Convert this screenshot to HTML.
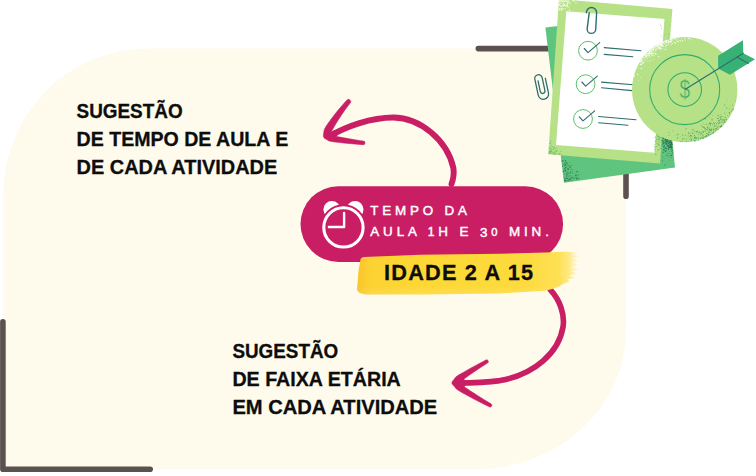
<!DOCTYPE html>
<html lang="pt-BR"><head><meta charset="utf-8"><title>Sugestão de tempo de aula</title>
<style>
html,body{margin:0;padding:0;background:#fff;}
body{width:756px;height:476px;overflow:hidden;position:relative;font-family:"Liberation Sans",sans-serif;}
svg{position:absolute;left:0;top:0;display:block}
text{font-family:"Liberation Sans",sans-serif;}
.h{font-weight:700;font-size:20px;fill:#0d0d0d;stroke:#0d0d0d;stroke-width:0.3px;}
.p{font-weight:400;font-size:13.4px;fill:#fff;stroke:#fff;stroke-width:0.45px;}
.i{font-weight:700;font-size:21.7px;fill:#0d0d0d;stroke:#0d0d0d;stroke-width:0.3px;}
</style></head><body>
<svg width="756" height="476" viewBox="0 0 756 476">

<path fill="#FEFBEC" d="M3.2,195.2 A144.2,146.6 0 0 1 147.39999999999998,48.6 L626,48.6 L626,330.3 A150,139 0 0 1 476,469.3 L3.2,469.3 Z"/>
<g fill="none" stroke="#5B5250" stroke-width="5.6" stroke-linecap="round" stroke-linejoin="round">
<path d="M2.9,321.7 L2.9,469.2 L150.2,469.2"/>
<path d="M478.3,48.6 L626,48.6 L626,196.3"/>
</g>
<polygon fill="#5FC47E" points="545.4,27.5 660,14 675,167.4 564,182.8"/>
<g fill="#26704F" opacity="0.9"><circle cx="563.7" cy="172.3" r="0.27"/><circle cx="570.6" cy="172.6" r="0.27"/><circle cx="566.7" cy="175.6" r="0.36"/><circle cx="565.5" cy="171.2" r="0.48"/><circle cx="570.9" cy="175.4" r="0.41"/><circle cx="565.9" cy="162.7" r="0.52"/><circle cx="565.5" cy="164.1" r="0.33"/><circle cx="573.2" cy="173.5" r="0.25"/><circle cx="576.2" cy="175.6" r="0.56"/><circle cx="571.0" cy="169.2" r="0.47"/><circle cx="563.4" cy="161.5" r="0.31"/><circle cx="568.1" cy="179.1" r="0.26"/><circle cx="568.0" cy="168.4" r="0.52"/><circle cx="574.2" cy="177.9" r="0.33"/><circle cx="567.2" cy="171.9" r="0.26"/><circle cx="562.6" cy="166.4" r="0.49"/><circle cx="567.1" cy="165.2" r="0.32"/><circle cx="566.1" cy="178.2" r="0.53"/><circle cx="568.0" cy="169.6" r="0.57"/><circle cx="564.8" cy="170.2" r="0.33"/><circle cx="569.3" cy="176.6" r="0.44"/><circle cx="576.4" cy="171.8" r="0.59"/><circle cx="565.4" cy="181.1" r="0.50"/><circle cx="576.6" cy="178.4" r="0.55"/><circle cx="563.2" cy="164.6" r="0.36"/><circle cx="566.1" cy="168.0" r="0.34"/><circle cx="564.4" cy="178.8" r="0.42"/><circle cx="571.3" cy="168.0" r="0.30"/><circle cx="565.6" cy="170.3" r="0.59"/><circle cx="578.7" cy="174.8" r="0.54"/><circle cx="577.7" cy="175.9" r="0.26"/><circle cx="565.1" cy="168.3" r="0.54"/><circle cx="577.7" cy="171.3" r="0.53"/><circle cx="576.2" cy="174.8" r="0.30"/><circle cx="567.8" cy="177.1" r="0.45"/><circle cx="562.3" cy="161.4" r="0.49"/><circle cx="564.7" cy="180.6" r="0.59"/><circle cx="566.8" cy="173.4" r="0.43"/><circle cx="567.3" cy="180.6" r="0.26"/><circle cx="569.3" cy="179.3" r="0.51"/><circle cx="564.9" cy="170.9" r="0.35"/><circle cx="566.8" cy="180.8" r="0.33"/><circle cx="565.2" cy="164.4" r="0.37"/><circle cx="564.1" cy="165.5" r="0.45"/><circle cx="567.1" cy="173.8" r="0.36"/><circle cx="565.3" cy="161.2" r="0.39"/><circle cx="570.6" cy="167.6" r="0.25"/><circle cx="562.9" cy="160.8" r="0.57"/><circle cx="569.3" cy="166.3" r="0.51"/><circle cx="570.3" cy="178.0" r="0.32"/><circle cx="568.8" cy="173.0" r="0.51"/><circle cx="566.6" cy="165.7" r="0.30"/><circle cx="567.3" cy="178.6" r="0.60"/><circle cx="570.6" cy="179.9" r="0.34"/><circle cx="575.7" cy="174.3" r="0.38"/><circle cx="565.3" cy="164.7" r="0.46"/><circle cx="569.5" cy="175.6" r="0.36"/><circle cx="566.7" cy="178.3" r="0.27"/><circle cx="566.5" cy="176.7" r="0.25"/><circle cx="571.3" cy="180.3" r="0.31"/><circle cx="570.5" cy="171.6" r="0.35"/><circle cx="576.3" cy="179.0" r="0.53"/><circle cx="564.7" cy="173.8" r="0.47"/><circle cx="563.9" cy="176.9" r="0.43"/><circle cx="563.2" cy="171.6" r="0.58"/><circle cx="578.8" cy="178.7" r="0.59"/><circle cx="565.7" cy="180.6" r="0.54"/><circle cx="570.3" cy="180.1" r="0.45"/><circle cx="570.3" cy="177.6" r="0.31"/><circle cx="562.0" cy="160.8" r="0.47"/><circle cx="564.4" cy="168.2" r="0.45"/><circle cx="567.6" cy="163.4" r="0.47"/><circle cx="567.7" cy="180.8" r="0.44"/><circle cx="571.3" cy="165.5" r="0.52"/><circle cx="566.0" cy="167.1" r="0.27"/><circle cx="572.7" cy="177.1" r="0.33"/><circle cx="564.4" cy="165.3" r="0.37"/><circle cx="572.0" cy="178.1" r="0.34"/><circle cx="566.9" cy="174.3" r="0.57"/><circle cx="565.3" cy="160.6" r="0.58"/><circle cx="569.9" cy="163.3" r="0.26"/><circle cx="566.7" cy="162.6" r="0.55"/><circle cx="564.3" cy="177.4" r="0.36"/><circle cx="568.5" cy="176.5" r="0.36"/><circle cx="572.0" cy="177.8" r="0.50"/><circle cx="573.3" cy="178.3" r="0.42"/><circle cx="570.0" cy="179.1" r="0.58"/><circle cx="570.0" cy="167.5" r="0.55"/><circle cx="577.2" cy="177.1" r="0.40"/><circle cx="565.7" cy="167.5" r="0.59"/><circle cx="566.5" cy="174.7" r="0.32"/><circle cx="563.3" cy="166.3" r="0.25"/><circle cx="567.0" cy="178.4" r="0.32"/><circle cx="564.9" cy="179.2" r="0.55"/><circle cx="568.2" cy="168.7" r="0.40"/><circle cx="581.1" cy="174.6" r="0.25"/><circle cx="564.3" cy="163.3" r="0.52"/><circle cx="566.5" cy="175.9" r="0.51"/><circle cx="572.1" cy="180.3" r="0.34"/><circle cx="563.3" cy="170.7" r="0.42"/><circle cx="563.7" cy="174.7" r="0.26"/><circle cx="574.1" cy="177.7" r="0.40"/><circle cx="568.7" cy="179.0" r="0.43"/><circle cx="577.1" cy="178.2" r="0.36"/><circle cx="575.7" cy="175.7" r="0.48"/><circle cx="572.5" cy="177.5" r="0.31"/><circle cx="568.9" cy="169.7" r="0.40"/><circle cx="572.9" cy="169.5" r="0.48"/><circle cx="566.9" cy="163.5" r="0.25"/><circle cx="565.3" cy="178.3" r="0.48"/><circle cx="573.0" cy="173.6" r="0.32"/><circle cx="566.2" cy="176.1" r="0.45"/><circle cx="571.3" cy="171.9" r="0.27"/><circle cx="576.6" cy="178.1" r="0.46"/><circle cx="569.9" cy="171.9" r="0.26"/><circle cx="562.9" cy="164.6" r="0.28"/><circle cx="575.6" cy="177.4" r="0.36"/><circle cx="565.9" cy="165.5" r="0.49"/><circle cx="565.2" cy="170.3" r="0.58"/><circle cx="569.8" cy="178.9" r="0.47"/><circle cx="565.3" cy="165.1" r="0.50"/><circle cx="568.1" cy="169.5" r="0.34"/><circle cx="568.7" cy="180.6" r="0.50"/><circle cx="567.0" cy="173.1" r="0.31"/><circle cx="570.5" cy="173.7" r="0.43"/><circle cx="572.3" cy="171.9" r="0.50"/><circle cx="567.1" cy="164.2" r="0.34"/><circle cx="564.8" cy="169.3" r="0.46"/><circle cx="570.4" cy="172.2" r="0.40"/><circle cx="568.1" cy="175.6" r="0.44"/><circle cx="568.6" cy="165.6" r="0.44"/><circle cx="567.1" cy="171.8" r="0.45"/><circle cx="567.5" cy="172.8" r="0.35"/><circle cx="572.1" cy="176.9" r="0.33"/><circle cx="566.2" cy="167.0" r="0.45"/><circle cx="571.5" cy="178.1" r="0.49"/><circle cx="575.5" cy="175.4" r="0.42"/><circle cx="576.1" cy="178.6" r="0.25"/><circle cx="573.1" cy="178.2" r="0.31"/><circle cx="568.7" cy="172.9" r="0.44"/></g>
<g fill="#1F5E49" opacity="0.9"><circle cx="666.2" cy="148.1" r="0.29"/><circle cx="663.9" cy="141.7" r="0.33"/><circle cx="663.6" cy="149.6" r="0.50"/><circle cx="669.1" cy="145.3" r="0.28"/><circle cx="670.6" cy="139.3" r="0.38"/><circle cx="668.0" cy="144.9" r="0.36"/><circle cx="662.1" cy="144.3" r="0.49"/><circle cx="670.6" cy="146.5" r="0.48"/><circle cx="671.4" cy="137.2" r="0.31"/><circle cx="671.5" cy="143.6" r="0.49"/><circle cx="660.8" cy="143.3" r="0.53"/><circle cx="668.7" cy="143.5" r="0.38"/><circle cx="666.6" cy="142.0" r="0.30"/><circle cx="664.6" cy="146.8" r="0.27"/><circle cx="667.2" cy="139.4" r="0.41"/><circle cx="665.8" cy="141.0" r="0.25"/><circle cx="669.0" cy="139.3" r="0.40"/><circle cx="663.0" cy="152.3" r="0.57"/><circle cx="670.4" cy="143.5" r="0.30"/><circle cx="668.0" cy="140.7" r="0.45"/><circle cx="668.2" cy="148.6" r="0.40"/><circle cx="669.0" cy="146.4" r="0.28"/><circle cx="670.4" cy="145.0" r="0.56"/><circle cx="670.9" cy="149.4" r="0.48"/><circle cx="668.2" cy="153.7" r="0.39"/><circle cx="663.8" cy="147.2" r="0.46"/><circle cx="661.8" cy="136.6" r="0.53"/><circle cx="671.0" cy="147.4" r="0.56"/><circle cx="665.5" cy="140.5" r="0.56"/><circle cx="666.3" cy="150.3" r="0.55"/><circle cx="665.3" cy="136.6" r="0.60"/><circle cx="668.8" cy="148.2" r="0.37"/><circle cx="665.9" cy="143.3" r="0.37"/><circle cx="664.8" cy="141.1" r="0.36"/><circle cx="664.4" cy="143.7" r="0.31"/><circle cx="660.9" cy="148.4" r="0.47"/><circle cx="664.1" cy="149.9" r="0.57"/><circle cx="661.5" cy="140.7" r="0.52"/><circle cx="671.9" cy="143.7" r="0.52"/><circle cx="670.0" cy="142.7" r="0.34"/><circle cx="666.9" cy="142.9" r="0.52"/><circle cx="671.8" cy="138.9" r="0.49"/><circle cx="671.0" cy="137.1" r="0.33"/><circle cx="666.9" cy="139.1" r="0.60"/><circle cx="667.8" cy="140.1" r="0.31"/><circle cx="671.0" cy="140.4" r="0.43"/><circle cx="671.7" cy="144.2" r="0.34"/><circle cx="671.5" cy="148.0" r="0.40"/><circle cx="666.2" cy="148.3" r="0.60"/><circle cx="669.8" cy="147.3" r="0.32"/><circle cx="671.1" cy="145.7" r="0.44"/><circle cx="665.0" cy="165.1" r="0.51"/><circle cx="671.4" cy="147.8" r="0.46"/><circle cx="670.8" cy="145.7" r="0.44"/><circle cx="662.0" cy="140.6" r="0.29"/><circle cx="667.2" cy="138.6" r="0.60"/><circle cx="670.9" cy="147.0" r="0.33"/><circle cx="669.1" cy="137.7" r="0.50"/><circle cx="664.4" cy="145.7" r="0.54"/><circle cx="669.9" cy="147.1" r="0.40"/><circle cx="669.0" cy="137.7" r="0.50"/><circle cx="665.3" cy="151.5" r="0.60"/><circle cx="664.4" cy="143.9" r="0.34"/><circle cx="668.2" cy="148.6" r="0.36"/><circle cx="664.1" cy="142.1" r="0.44"/><circle cx="666.9" cy="155.2" r="0.55"/><circle cx="670.8" cy="144.8" r="0.54"/><circle cx="671.0" cy="140.6" r="0.49"/><circle cx="670.9" cy="139.4" r="0.29"/><circle cx="668.7" cy="138.7" r="0.34"/><circle cx="667.4" cy="137.0" r="0.28"/><circle cx="670.3" cy="140.0" r="0.37"/><circle cx="664.2" cy="136.9" r="0.43"/><circle cx="669.3" cy="143.0" r="0.52"/><circle cx="671.4" cy="137.9" r="0.46"/><circle cx="666.5" cy="138.6" r="0.51"/><circle cx="670.9" cy="140.5" r="0.30"/><circle cx="670.2" cy="142.0" r="0.55"/><circle cx="671.5" cy="146.5" r="0.59"/><circle cx="667.8" cy="136.5" r="0.53"/><circle cx="665.4" cy="142.4" r="0.55"/><circle cx="669.9" cy="144.8" r="0.34"/><circle cx="670.9" cy="137.2" r="0.31"/><circle cx="668.4" cy="136.0" r="0.58"/><circle cx="670.7" cy="138.3" r="0.41"/><circle cx="669.4" cy="153.3" r="0.39"/><circle cx="672.2" cy="144.7" r="0.40"/><circle cx="671.1" cy="144.3" r="0.45"/><circle cx="665.0" cy="137.6" r="0.38"/><circle cx="672.0" cy="144.3" r="0.57"/><circle cx="665.4" cy="138.0" r="0.43"/><circle cx="663.4" cy="142.7" r="0.49"/><circle cx="662.2" cy="144.3" r="0.41"/><circle cx="667.6" cy="140.0" r="0.49"/><circle cx="671.3" cy="149.6" r="0.32"/><circle cx="666.4" cy="144.5" r="0.51"/><circle cx="668.3" cy="149.2" r="0.50"/><circle cx="671.6" cy="157.6" r="0.32"/><circle cx="667.3" cy="139.1" r="0.30"/><circle cx="663.3" cy="143.6" r="0.57"/><circle cx="669.4" cy="147.4" r="0.54"/><circle cx="672.6" cy="149.9" r="0.56"/><circle cx="668.5" cy="138.1" r="0.47"/><circle cx="670.2" cy="142.2" r="0.57"/><circle cx="664.7" cy="147.9" r="0.51"/><circle cx="668.7" cy="146.6" r="0.51"/><circle cx="671.5" cy="136.9" r="0.55"/><circle cx="671.3" cy="143.6" r="0.37"/><circle cx="665.2" cy="138.8" r="0.59"/><circle cx="672.7" cy="152.0" r="0.54"/><circle cx="661.0" cy="138.0" r="0.38"/><circle cx="664.4" cy="136.3" r="0.57"/><circle cx="670.6" cy="141.4" r="0.28"/><circle cx="671.6" cy="140.2" r="0.34"/><circle cx="665.9" cy="151.7" r="0.34"/><circle cx="663.4" cy="138.5" r="0.57"/><circle cx="667.2" cy="145.5" r="0.48"/><circle cx="667.7" cy="141.4" r="0.48"/><circle cx="668.2" cy="136.7" r="0.51"/><circle cx="668.6" cy="143.0" r="0.46"/><circle cx="670.4" cy="140.4" r="0.58"/><circle cx="661.3" cy="142.5" r="0.40"/><circle cx="662.6" cy="160.8" r="0.46"/><circle cx="671.4" cy="140.1" r="0.29"/><circle cx="670.8" cy="138.2" r="0.47"/><circle cx="663.6" cy="142.4" r="0.26"/><circle cx="667.0" cy="141.3" r="0.26"/><circle cx="670.8" cy="140.8" r="0.59"/><circle cx="671.6" cy="144.2" r="0.25"/><circle cx="662.8" cy="156.9" r="0.33"/><circle cx="664.1" cy="137.6" r="0.31"/><circle cx="669.4" cy="141.7" r="0.53"/><circle cx="671.6" cy="136.9" r="0.33"/><circle cx="669.7" cy="138.7" r="0.43"/><circle cx="667.4" cy="141.9" r="0.43"/><circle cx="672.3" cy="147.2" r="0.57"/><circle cx="667.0" cy="138.6" r="0.28"/><circle cx="661.7" cy="138.1" r="0.44"/><circle cx="665.4" cy="139.7" r="0.59"/><circle cx="671.7" cy="139.9" r="0.59"/><circle cx="665.6" cy="147.3" r="0.33"/><circle cx="670.8" cy="155.6" r="0.55"/><circle cx="661.6" cy="145.8" r="0.53"/><circle cx="663.6" cy="138.1" r="0.51"/><circle cx="666.9" cy="138.8" r="0.54"/><circle cx="667.5" cy="138.8" r="0.37"/><circle cx="670.8" cy="140.3" r="0.47"/><circle cx="669.9" cy="145.1" r="0.33"/><circle cx="668.1" cy="141.5" r="0.40"/><circle cx="671.1" cy="147.8" r="0.55"/><circle cx="666.4" cy="141.5" r="0.56"/><circle cx="667.6" cy="146.0" r="0.46"/><circle cx="662.4" cy="142.8" r="0.34"/><circle cx="660.6" cy="137.7" r="0.26"/><circle cx="671.3" cy="154.9" r="0.31"/><circle cx="666.3" cy="143.6" r="0.59"/><circle cx="662.8" cy="141.4" r="0.37"/><circle cx="668.5" cy="156.4" r="0.40"/><circle cx="671.1" cy="136.1" r="0.53"/><circle cx="669.8" cy="145.5" r="0.34"/><circle cx="671.7" cy="155.5" r="0.42"/><circle cx="671.5" cy="142.4" r="0.35"/><circle cx="670.2" cy="147.3" r="0.54"/><circle cx="666.5" cy="141.0" r="0.41"/><circle cx="667.9" cy="144.0" r="0.44"/><circle cx="672.2" cy="153.7" r="0.56"/><circle cx="670.9" cy="157.4" r="0.27"/><circle cx="669.1" cy="136.3" r="0.57"/><circle cx="669.4" cy="160.7" r="0.32"/><circle cx="671.2" cy="138.0" r="0.59"/><circle cx="670.5" cy="140.8" r="0.44"/><circle cx="662.3" cy="140.7" r="0.46"/><circle cx="666.6" cy="152.3" r="0.27"/><circle cx="662.9" cy="138.1" r="0.37"/><circle cx="663.9" cy="140.6" r="0.36"/><circle cx="666.9" cy="141.0" r="0.29"/><circle cx="668.1" cy="146.1" r="0.51"/><circle cx="671.5" cy="151.3" r="0.48"/><circle cx="666.9" cy="140.7" r="0.44"/><circle cx="667.6" cy="140.2" r="0.29"/><circle cx="669.4" cy="142.7" r="0.43"/><circle cx="668.2" cy="147.3" r="0.39"/><circle cx="671.7" cy="142.4" r="0.38"/><circle cx="671.7" cy="142.2" r="0.52"/><circle cx="671.1" cy="144.2" r="0.38"/><circle cx="663.7" cy="146.1" r="0.53"/><circle cx="662.9" cy="140.7" r="0.57"/><circle cx="666.1" cy="136.3" r="0.52"/><circle cx="669.8" cy="144.8" r="0.55"/><circle cx="669.6" cy="151.3" r="0.32"/><circle cx="669.4" cy="147.3" r="0.53"/><circle cx="667.4" cy="142.4" r="0.28"/><circle cx="668.5" cy="145.8" r="0.55"/><circle cx="665.8" cy="148.1" r="0.48"/><circle cx="671.1" cy="143.8" r="0.30"/><circle cx="669.8" cy="141.1" r="0.36"/><circle cx="668.8" cy="140.0" r="0.47"/><circle cx="669.1" cy="142.7" r="0.54"/><circle cx="670.4" cy="139.2" r="0.26"/><circle cx="671.7" cy="142.8" r="0.57"/></g>
<polygon fill="#B6E187" points="559,-1 672.4,8.9 660,163.5 548.2,154.3"/>
<polygon fill="#FFFFFF" points="566.3,11.2 664.5,19 654.4,152.8 556,144.9"/>
<g fill="#FFFFFF" opacity="0.9"><circle cx="562.0" cy="8.4" r="0.61"/><circle cx="567.5" cy="6.3" r="0.67"/><circle cx="563.2" cy="8.7" r="0.62"/><circle cx="561.0" cy="3.3" r="0.49"/><circle cx="566.9" cy="6.9" r="0.47"/><circle cx="559.0" cy="9.6" r="0.63"/><circle cx="561.6" cy="9.3" r="0.65"/><circle cx="563.0" cy="1.2" r="0.50"/><circle cx="567.1" cy="1.8" r="0.53"/><circle cx="563.0" cy="5.7" r="0.48"/><circle cx="569.6" cy="10.0" r="0.67"/><circle cx="563.2" cy="0.5" r="0.53"/><circle cx="565.4" cy="8.7" r="0.53"/><circle cx="560.1" cy="3.0" r="0.40"/><circle cx="560.8" cy="5.9" r="0.42"/><circle cx="574.2" cy="1.4" r="0.30"/><circle cx="559.8" cy="9.1" r="0.67"/><circle cx="567.2" cy="3.7" r="0.68"/><circle cx="568.7" cy="6.9" r="0.52"/><circle cx="568.9" cy="1.6" r="0.59"/><circle cx="559.5" cy="8.7" r="0.37"/><circle cx="561.6" cy="6.3" r="0.69"/><circle cx="567.0" cy="5.2" r="0.69"/><circle cx="561.3" cy="0.5" r="0.65"/><circle cx="564.8" cy="1.8" r="0.47"/><circle cx="570.8" cy="5.0" r="0.48"/><circle cx="561.3" cy="3.6" r="0.31"/><circle cx="566.9" cy="1.5" r="0.31"/><circle cx="562.2" cy="2.7" r="0.34"/><circle cx="563.1" cy="6.2" r="0.63"/><circle cx="567.8" cy="3.0" r="0.64"/><circle cx="560.0" cy="8.9" r="0.68"/><circle cx="561.1" cy="0.8" r="0.54"/><circle cx="562.9" cy="5.2" r="0.53"/><circle cx="563.8" cy="1.4" r="0.50"/><circle cx="573.4" cy="0.5" r="0.68"/><circle cx="567.2" cy="5.1" r="0.58"/><circle cx="562.6" cy="1.9" r="0.38"/><circle cx="566.1" cy="1.2" r="0.59"/><circle cx="567.3" cy="0.1" r="0.45"/><circle cx="559.3" cy="10.3" r="0.30"/><circle cx="559.5" cy="1.2" r="0.53"/><circle cx="569.6" cy="3.0" r="0.69"/><circle cx="561.6" cy="10.2" r="0.58"/><circle cx="564.6" cy="4.8" r="0.58"/><circle cx="566.8" cy="1.2" r="0.58"/><circle cx="561.7" cy="1.6" r="0.43"/><circle cx="568.5" cy="0.2" r="0.46"/><circle cx="565.4" cy="5.9" r="0.56"/><circle cx="559.3" cy="1.1" r="0.47"/><circle cx="559.3" cy="4.6" r="0.55"/><circle cx="560.4" cy="6.5" r="0.50"/><circle cx="559.6" cy="5.5" r="0.59"/><circle cx="564.0" cy="4.6" r="0.58"/><circle cx="562.3" cy="1.6" r="0.58"/><circle cx="576.0" cy="2.7" r="0.65"/><circle cx="564.8" cy="3.0" r="0.35"/><circle cx="562.4" cy="0.9" r="0.34"/><circle cx="573.0" cy="1.0" r="0.57"/><circle cx="559.7" cy="4.1" r="0.62"/><circle cx="563.5" cy="3.9" r="0.65"/><circle cx="564.4" cy="1.2" r="0.61"/><circle cx="565.0" cy="5.4" r="0.66"/><circle cx="563.6" cy="4.5" r="0.53"/><circle cx="566.7" cy="1.3" r="0.51"/><circle cx="560.1" cy="1.9" r="0.61"/><circle cx="559.9" cy="0.8" r="0.58"/><circle cx="565.3" cy="0.8" r="0.56"/><circle cx="563.7" cy="0.5" r="0.31"/><circle cx="568.4" cy="2.8" r="0.37"/></g>
<g fill="#5FB56B" opacity="0.9"><circle cx="550.0" cy="143.4" r="0.50"/><circle cx="554.0" cy="151.9" r="0.48"/><circle cx="555.8" cy="152.9" r="0.31"/><circle cx="552.4" cy="146.4" r="0.33"/><circle cx="551.8" cy="149.8" r="0.54"/><circle cx="551.8" cy="151.6" r="0.33"/><circle cx="551.5" cy="153.5" r="0.44"/><circle cx="550.0" cy="153.2" r="0.35"/><circle cx="555.7" cy="153.7" r="0.49"/><circle cx="554.0" cy="148.0" r="0.40"/><circle cx="549.6" cy="151.5" r="0.43"/><circle cx="554.0" cy="152.0" r="0.42"/><circle cx="559.9" cy="153.1" r="0.35"/><circle cx="550.4" cy="140.6" r="0.47"/><circle cx="549.2" cy="152.1" r="0.49"/><circle cx="551.6" cy="151.8" r="0.53"/><circle cx="550.5" cy="148.3" r="0.34"/><circle cx="553.5" cy="153.2" r="0.33"/><circle cx="550.3" cy="150.4" r="0.52"/><circle cx="551.3" cy="144.9" r="0.37"/><circle cx="557.2" cy="153.9" r="0.35"/><circle cx="556.2" cy="148.3" r="0.53"/><circle cx="552.7" cy="153.1" r="0.41"/><circle cx="549.5" cy="148.5" r="0.33"/><circle cx="562.5" cy="154.2" r="0.29"/><circle cx="553.1" cy="154.1" r="0.37"/><circle cx="549.4" cy="151.3" r="0.29"/><circle cx="549.8" cy="151.7" r="0.33"/><circle cx="554.5" cy="153.5" r="0.28"/><circle cx="550.1" cy="152.4" r="0.36"/><circle cx="553.3" cy="153.2" r="0.32"/><circle cx="560.2" cy="153.8" r="0.48"/><circle cx="550.4" cy="143.1" r="0.54"/><circle cx="549.5" cy="152.9" r="0.35"/><circle cx="550.0" cy="153.5" r="0.29"/><circle cx="549.6" cy="153.0" r="0.43"/><circle cx="550.1" cy="146.6" r="0.30"/><circle cx="554.4" cy="152.3" r="0.49"/><circle cx="555.1" cy="153.9" r="0.52"/><circle cx="558.4" cy="153.3" r="0.33"/><circle cx="549.9" cy="152.5" r="0.53"/><circle cx="555.1" cy="151.8" r="0.40"/><circle cx="553.0" cy="153.5" r="0.36"/><circle cx="552.5" cy="152.8" r="0.36"/><circle cx="552.0" cy="149.7" r="0.39"/><circle cx="550.1" cy="148.7" r="0.35"/><circle cx="551.0" cy="146.2" r="0.45"/><circle cx="556.4" cy="151.7" r="0.30"/><circle cx="557.7" cy="150.5" r="0.33"/><circle cx="553.5" cy="147.3" r="0.36"/><circle cx="556.2" cy="151.6" r="0.39"/><circle cx="550.9" cy="151.0" r="0.33"/><circle cx="555.5" cy="150.1" r="0.48"/><circle cx="550.6" cy="151.1" r="0.54"/><circle cx="550.9" cy="148.1" r="0.29"/><circle cx="553.9" cy="148.7" r="0.50"/><circle cx="558.5" cy="154.0" r="0.31"/><circle cx="554.1" cy="153.7" r="0.44"/><circle cx="549.5" cy="148.8" r="0.46"/><circle cx="551.5" cy="151.2" r="0.46"/><circle cx="556.2" cy="151.2" r="0.46"/><circle cx="553.6" cy="149.6" r="0.39"/><circle cx="551.2" cy="152.5" r="0.29"/><circle cx="559.5" cy="154.2" r="0.50"/><circle cx="549.5" cy="147.2" r="0.43"/><circle cx="558.9" cy="151.0" r="0.25"/><circle cx="554.4" cy="147.6" r="0.50"/><circle cx="552.8" cy="146.5" r="0.26"/><circle cx="553.0" cy="147.1" r="0.33"/><circle cx="557.5" cy="151.0" r="0.29"/><circle cx="548.9" cy="153.7" r="0.45"/><circle cx="554.0" cy="154.0" r="0.26"/><circle cx="553.6" cy="147.4" r="0.25"/><circle cx="550.6" cy="150.4" r="0.32"/><circle cx="550.9" cy="149.0" r="0.54"/><circle cx="551.6" cy="141.3" r="0.42"/><circle cx="560.8" cy="151.3" r="0.50"/><circle cx="549.8" cy="151.5" r="0.45"/><circle cx="549.8" cy="153.0" r="0.44"/><circle cx="556.5" cy="150.5" r="0.38"/></g>
<g fill="#8FD06F" opacity="0.8"><circle cx="666.3" cy="20.9" r="0.45"/><circle cx="664.9" cy="22.8" r="0.36"/><circle cx="672.0" cy="21.4" r="0.27"/><circle cx="661.3" cy="36.2" r="0.54"/><circle cx="668.5" cy="38.1" r="0.38"/><circle cx="669.7" cy="42.1" r="0.46"/><circle cx="662.4" cy="38.5" r="0.31"/><circle cx="660.2" cy="46.3" r="0.54"/><circle cx="669.3" cy="24.5" r="0.41"/><circle cx="667.3" cy="40.6" r="0.42"/><circle cx="671.5" cy="40.2" r="0.38"/><circle cx="665.6" cy="23.7" r="0.33"/><circle cx="662.1" cy="47.0" r="0.51"/><circle cx="668.5" cy="33.5" r="0.42"/><circle cx="663.7" cy="44.9" r="0.44"/><circle cx="671.8" cy="49.8" r="0.54"/><circle cx="662.4" cy="43.7" r="0.48"/><circle cx="666.6" cy="23.9" r="0.27"/><circle cx="662.2" cy="49.4" r="0.29"/><circle cx="667.0" cy="34.6" r="0.25"/><circle cx="664.2" cy="35.7" r="0.55"/><circle cx="669.5" cy="34.8" r="0.50"/><circle cx="661.4" cy="26.7" r="0.40"/><circle cx="664.9" cy="34.9" r="0.48"/><circle cx="660.5" cy="25.8" r="0.55"/><circle cx="664.0" cy="47.9" r="0.32"/><circle cx="663.7" cy="45.4" r="0.45"/><circle cx="660.6" cy="34.5" r="0.29"/><circle cx="661.6" cy="28.6" r="0.53"/><circle cx="671.7" cy="26.2" r="0.31"/><circle cx="669.3" cy="35.9" r="0.45"/><circle cx="671.4" cy="21.5" r="0.29"/><circle cx="669.0" cy="37.9" r="0.27"/><circle cx="668.9" cy="33.5" r="0.42"/><circle cx="665.2" cy="33.5" r="0.36"/><circle cx="669.3" cy="46.5" r="0.46"/><circle cx="665.2" cy="28.2" r="0.41"/><circle cx="666.3" cy="28.8" r="0.44"/><circle cx="668.6" cy="40.9" r="0.51"/><circle cx="660.2" cy="23.9" r="0.42"/></g>
<g fill="#4FA85E" opacity="0.85"><circle cx="656.1" cy="143.7" r="0.25"/><circle cx="660.0" cy="130.1" r="0.41"/><circle cx="660.2" cy="148.5" r="0.50"/><circle cx="661.1" cy="137.6" r="0.54"/><circle cx="659.2" cy="145.0" r="0.43"/><circle cx="660.2" cy="142.5" r="0.34"/><circle cx="659.2" cy="139.8" r="0.54"/><circle cx="659.4" cy="143.1" r="0.26"/><circle cx="658.7" cy="139.6" r="0.54"/><circle cx="657.4" cy="145.6" r="0.32"/><circle cx="659.3" cy="138.1" r="0.40"/><circle cx="658.9" cy="136.1" r="0.41"/><circle cx="658.1" cy="150.5" r="0.45"/><circle cx="660.6" cy="138.5" r="0.45"/><circle cx="661.2" cy="128.2" r="0.39"/><circle cx="657.1" cy="142.9" r="0.46"/><circle cx="654.7" cy="146.8" r="0.53"/><circle cx="657.1" cy="136.5" r="0.36"/><circle cx="656.4" cy="134.7" r="0.34"/><circle cx="660.0" cy="148.2" r="0.26"/><circle cx="657.6" cy="131.4" r="0.38"/><circle cx="659.5" cy="132.0" r="0.52"/><circle cx="656.6" cy="132.2" r="0.46"/><circle cx="655.1" cy="137.7" r="0.55"/><circle cx="656.7" cy="146.6" r="0.49"/><circle cx="659.8" cy="137.3" r="0.39"/><circle cx="659.3" cy="128.2" r="0.25"/><circle cx="661.1" cy="130.7" r="0.39"/><circle cx="659.8" cy="144.9" r="0.39"/><circle cx="659.5" cy="142.5" r="0.35"/><circle cx="658.8" cy="141.0" r="0.41"/><circle cx="657.0" cy="143.4" r="0.39"/><circle cx="658.8" cy="139.4" r="0.47"/><circle cx="659.6" cy="137.0" r="0.48"/><circle cx="655.2" cy="136.4" r="0.41"/><circle cx="661.4" cy="139.6" r="0.47"/><circle cx="657.2" cy="139.0" r="0.50"/><circle cx="658.7" cy="144.8" r="0.48"/><circle cx="656.9" cy="134.6" r="0.44"/><circle cx="659.0" cy="141.4" r="0.25"/><circle cx="658.8" cy="138.7" r="0.41"/><circle cx="656.8" cy="137.8" r="0.36"/><circle cx="661.3" cy="129.0" r="0.42"/><circle cx="662.2" cy="128.3" r="0.37"/><circle cx="659.9" cy="128.3" r="0.42"/><circle cx="656.7" cy="137.3" r="0.28"/><circle cx="658.7" cy="136.0" r="0.30"/><circle cx="657.6" cy="136.7" r="0.36"/><circle cx="655.2" cy="148.1" r="0.42"/><circle cx="655.0" cy="149.7" r="0.45"/><circle cx="661.8" cy="130.0" r="0.30"/><circle cx="655.2" cy="140.3" r="0.36"/><circle cx="660.5" cy="148.4" r="0.38"/><circle cx="656.2" cy="140.1" r="0.49"/><circle cx="658.5" cy="133.6" r="0.42"/><circle cx="659.6" cy="133.6" r="0.32"/><circle cx="657.3" cy="134.9" r="0.52"/><circle cx="656.0" cy="141.7" r="0.54"/><circle cx="658.2" cy="130.7" r="0.50"/><circle cx="658.3" cy="137.0" r="0.46"/><circle cx="659.3" cy="130.3" r="0.29"/><circle cx="660.1" cy="131.0" r="0.49"/><circle cx="661.3" cy="140.3" r="0.35"/><circle cx="658.4" cy="144.1" r="0.50"/><circle cx="659.5" cy="149.2" r="0.40"/><circle cx="658.4" cy="144.3" r="0.49"/><circle cx="660.3" cy="146.7" r="0.35"/><circle cx="659.6" cy="132.9" r="0.26"/><circle cx="656.6" cy="132.1" r="0.39"/><circle cx="654.8" cy="141.9" r="0.33"/><circle cx="656.0" cy="130.7" r="0.37"/><circle cx="658.5" cy="133.0" r="0.47"/><circle cx="655.8" cy="154.3" r="0.54"/><circle cx="659.9" cy="130.5" r="0.39"/><circle cx="656.6" cy="139.4" r="0.31"/><circle cx="661.6" cy="132.2" r="0.36"/><circle cx="658.0" cy="131.2" r="0.53"/><circle cx="661.2" cy="140.6" r="0.26"/><circle cx="661.3" cy="140.9" r="0.53"/><circle cx="658.4" cy="149.8" r="0.46"/><circle cx="655.3" cy="150.9" r="0.27"/><circle cx="661.4" cy="140.5" r="0.38"/><circle cx="658.2" cy="133.5" r="0.51"/><circle cx="655.8" cy="154.8" r="0.45"/><circle cx="661.8" cy="131.8" r="0.28"/><circle cx="659.6" cy="133.1" r="0.53"/><circle cx="658.4" cy="136.4" r="0.53"/><circle cx="661.0" cy="137.1" r="0.42"/><circle cx="654.8" cy="144.4" r="0.45"/><circle cx="659.8" cy="131.5" r="0.37"/></g>
<g transform="translate(591.6,20.6) rotate(3)" fill="none" stroke="#2E6E6E" stroke-width="1.4" stroke-linecap="round"><path d="M-5.6,-7.6 A5,5 0 0 1 4.6,-8.3 L4.6,8.5 A4.3,4.3 0 0 1 -4,8.5 L-2.8,-7.8"/></g>
<circle cx="588" cy="50.7" r="9.4" fill="none" stroke="#5CC06C" stroke-width="1"/>
<path d="M584.3,48.5 L588,52.6 L599.7,42.6" fill="none" stroke="#2E6E6E" stroke-width="1.15" stroke-linecap="round" stroke-linejoin="round"/>
<circle cx="585.6" cy="84.2" r="9.4" fill="none" stroke="#5CC06C" stroke-width="1"/>
<path d="M581.9,82.0 L585.6,86.10000000000001 L597.3000000000001,76.10000000000001" fill="none" stroke="#2E6E6E" stroke-width="1.15" stroke-linecap="round" stroke-linejoin="round"/>
<circle cx="583" cy="119" r="9.4" fill="none" stroke="#5CC06C" stroke-width="1"/>
<path d="M579.3,116.8 L583,120.9 L594.7,110.9" fill="none" stroke="#2E6E6E" stroke-width="1.15" stroke-linecap="round" stroke-linejoin="round"/>
<g stroke="#2E6E6E" stroke-width="1.1" stroke-linecap="round">
<line x1="604.2" y1="47.6" x2="641" y2="50.8"/>
<line x1="604.2" y1="54.4" x2="632.8" y2="56.7"/>
<line x1="601.5" y1="82.1" x2="633" y2="84.8"/>
<line x1="601.5" y1="87.8" x2="632" y2="90.6"/>
<line x1="598.6" y1="116.5" x2="636" y2="119.7"/>
<line x1="598.6" y1="122.8" x2="627.9" y2="125.3"/>
</g>
<g transform="translate(541.8,86.8) rotate(-12) translate(-5.25,-12.6)" fill="none" stroke="#2E6E6E" stroke-width="1.3" stroke-linecap="round"><path d="M2.8,6 L2.8,17 A2.35,2.35 0 0 0 7.5,17 L7.5,3.75 A3.75,3.75 0 0 0 0,3.75 L0,20 A5.25,5.25 0 0 0 10.5,20 L10.5,5"/></g>
<circle cx="684.7" cy="89.6" r="52.7" fill="#B6E187"/>
<g fill="#FFFFFF" opacity="0.9"><circle cx="659.6" cy="48.4" r="0.72"/><circle cx="665.6" cy="47.1" r="0.35"/><circle cx="668.5" cy="42.9" r="0.64"/><circle cx="671.0" cy="39.8" r="0.47"/><circle cx="671.7" cy="39.8" r="0.36"/><circle cx="653.5" cy="49.0" r="0.63"/><circle cx="666.3" cy="40.8" r="0.58"/><circle cx="659.1" cy="45.3" r="0.68"/><circle cx="664.5" cy="42.4" r="0.45"/><circle cx="650.2" cy="51.3" r="0.35"/><circle cx="644.2" cy="59.3" r="0.44"/><circle cx="660.5" cy="44.6" r="0.36"/><circle cx="689.2" cy="37.6" r="0.32"/><circle cx="645.8" cy="54.7" r="0.38"/><circle cx="655.1" cy="52.9" r="0.38"/><circle cx="650.3" cy="60.8" r="0.61"/><circle cx="656.0" cy="54.0" r="0.68"/><circle cx="672.7" cy="39.9" r="0.37"/><circle cx="663.9" cy="48.4" r="0.47"/><circle cx="652.1" cy="49.6" r="0.66"/><circle cx="649.7" cy="52.6" r="0.37"/><circle cx="670.3" cy="41.5" r="0.37"/><circle cx="684.7" cy="38.4" r="0.57"/><circle cx="651.2" cy="56.2" r="0.45"/><circle cx="656.5" cy="45.6" r="0.34"/><circle cx="649.0" cy="56.1" r="0.62"/><circle cx="651.3" cy="50.8" r="0.31"/><circle cx="681.5" cy="38.9" r="0.49"/><circle cx="663.0" cy="43.0" r="0.31"/><circle cx="644.1" cy="62.5" r="0.48"/><circle cx="651.0" cy="53.9" r="0.43"/><circle cx="646.4" cy="56.9" r="0.64"/><circle cx="649.1" cy="55.5" r="0.46"/><circle cx="659.9" cy="47.4" r="0.44"/><circle cx="660.6" cy="44.6" r="0.61"/><circle cx="671.3" cy="41.7" r="0.38"/><circle cx="651.8" cy="55.1" r="0.66"/><circle cx="657.9" cy="46.1" r="0.30"/><circle cx="642.3" cy="63.0" r="0.38"/><circle cx="668.9" cy="41.9" r="0.34"/><circle cx="646.3" cy="55.6" r="0.71"/><circle cx="646.2" cy="56.7" r="0.70"/><circle cx="652.1" cy="52.8" r="0.59"/><circle cx="670.6" cy="41.8" r="0.49"/><circle cx="660.5" cy="47.2" r="0.45"/><circle cx="658.8" cy="56.8" r="0.69"/><circle cx="646.0" cy="55.1" r="0.42"/><circle cx="682.5" cy="41.0" r="0.67"/><circle cx="666.5" cy="42.1" r="0.44"/><circle cx="650.4" cy="50.9" r="0.67"/><circle cx="652.1" cy="48.5" r="0.41"/><circle cx="663.4" cy="42.1" r="0.57"/><circle cx="688.9" cy="38.4" r="0.68"/><circle cx="652.7" cy="48.8" r="0.31"/><circle cx="640.4" cy="77.5" r="0.44"/><circle cx="660.6" cy="43.6" r="0.74"/><circle cx="634.4" cy="75.9" r="0.66"/><circle cx="665.0" cy="46.5" r="0.46"/><circle cx="655.7" cy="48.8" r="0.38"/><circle cx="669.4" cy="41.6" r="0.48"/><circle cx="677.6" cy="41.4" r="0.53"/><circle cx="670.4" cy="41.8" r="0.62"/><circle cx="656.5" cy="45.4" r="0.64"/><circle cx="653.3" cy="53.7" r="0.70"/><circle cx="652.1" cy="52.1" r="0.63"/><circle cx="674.5" cy="38.6" r="0.56"/><circle cx="660.8" cy="48.7" r="0.67"/><circle cx="656.4" cy="48.1" r="0.33"/><circle cx="672.0" cy="40.8" r="0.50"/><circle cx="640.9" cy="64.3" r="0.67"/><circle cx="642.8" cy="63.0" r="0.67"/><circle cx="658.4" cy="44.6" r="0.74"/><circle cx="669.6" cy="39.3" r="0.48"/><circle cx="676.2" cy="40.9" r="0.38"/><circle cx="659.4" cy="47.6" r="0.49"/><circle cx="652.9" cy="55.6" r="0.50"/><circle cx="658.4" cy="45.9" r="0.49"/><circle cx="674.4" cy="42.4" r="0.37"/><circle cx="646.8" cy="56.2" r="0.31"/><circle cx="649.3" cy="53.2" r="0.51"/><circle cx="661.0" cy="43.0" r="0.72"/><circle cx="660.4" cy="44.8" r="0.41"/><circle cx="667.0" cy="44.7" r="0.47"/><circle cx="662.9" cy="45.0" r="0.57"/><circle cx="666.6" cy="40.5" r="0.74"/><circle cx="660.6" cy="48.1" r="0.60"/><circle cx="654.7" cy="48.4" r="0.41"/><circle cx="674.8" cy="42.3" r="0.62"/><circle cx="646.8" cy="55.5" r="0.69"/><circle cx="659.7" cy="47.1" r="0.57"/><circle cx="651.1" cy="53.9" r="0.65"/><circle cx="654.4" cy="53.0" r="0.36"/><circle cx="671.5" cy="41.5" r="0.42"/><circle cx="652.1" cy="53.0" r="0.40"/><circle cx="651.3" cy="51.6" r="0.43"/><circle cx="644.2" cy="60.1" r="0.31"/><circle cx="658.1" cy="46.5" r="0.58"/><circle cx="642.0" cy="60.2" r="0.62"/><circle cx="659.3" cy="43.8" r="0.71"/><circle cx="646.3" cy="57.1" r="0.40"/><circle cx="653.4" cy="50.2" r="0.54"/><circle cx="650.0" cy="53.2" r="0.58"/><circle cx="663.6" cy="46.1" r="0.55"/><circle cx="651.0" cy="51.6" r="0.66"/><circle cx="657.9" cy="44.8" r="0.41"/><circle cx="660.6" cy="45.0" r="0.53"/><circle cx="677.8" cy="38.7" r="0.37"/><circle cx="665.4" cy="49.2" r="0.57"/><circle cx="645.1" cy="56.2" r="0.48"/><circle cx="671.0" cy="40.8" r="0.35"/><circle cx="663.0" cy="43.9" r="0.30"/><circle cx="644.5" cy="61.3" r="0.35"/><circle cx="649.1" cy="57.8" r="0.43"/><circle cx="641.0" cy="63.0" r="0.40"/><circle cx="659.1" cy="43.8" r="0.51"/><circle cx="648.7" cy="51.8" r="0.38"/><circle cx="644.5" cy="57.5" r="0.47"/><circle cx="666.4" cy="49.0" r="0.45"/><circle cx="646.6" cy="57.4" r="0.34"/><circle cx="659.2" cy="44.9" r="0.47"/><circle cx="658.1" cy="47.7" r="0.67"/><circle cx="656.7" cy="46.1" r="0.46"/><circle cx="662.1" cy="46.5" r="0.58"/><circle cx="651.8" cy="53.1" r="0.61"/><circle cx="646.1" cy="54.8" r="0.32"/><circle cx="646.6" cy="61.0" r="0.40"/><circle cx="688.1" cy="39.8" r="0.33"/><circle cx="638.7" cy="80.8" r="0.43"/><circle cx="663.4" cy="41.9" r="0.45"/><circle cx="666.5" cy="45.3" r="0.72"/><circle cx="658.9" cy="48.4" r="0.52"/><circle cx="668.6" cy="42.0" r="0.75"/><circle cx="658.8" cy="44.0" r="0.38"/><circle cx="650.6" cy="53.5" r="0.52"/><circle cx="661.0" cy="44.3" r="0.60"/><circle cx="672.2" cy="39.3" r="0.51"/><circle cx="669.5" cy="41.5" r="0.57"/><circle cx="663.3" cy="42.6" r="0.72"/><circle cx="671.7" cy="38.8" r="0.42"/><circle cx="649.1" cy="55.2" r="0.39"/><circle cx="648.0" cy="53.6" r="0.31"/><circle cx="691.0" cy="39.8" r="0.56"/><circle cx="685.5" cy="40.2" r="0.44"/><circle cx="662.4" cy="45.6" r="0.40"/><circle cx="654.4" cy="50.9" r="0.36"/><circle cx="655.8" cy="47.1" r="0.74"/><circle cx="655.9" cy="50.0" r="0.71"/><circle cx="645.4" cy="55.5" r="0.39"/><circle cx="670.9" cy="42.3" r="0.53"/><circle cx="647.0" cy="57.1" r="0.41"/><circle cx="678.7" cy="41.2" r="0.52"/><circle cx="662.5" cy="44.2" r="0.41"/><circle cx="658.2" cy="47.6" r="0.34"/><circle cx="662.0" cy="43.7" r="0.63"/><circle cx="666.5" cy="42.0" r="0.63"/><circle cx="641.6" cy="61.0" r="0.66"/><circle cx="647.9" cy="53.4" r="0.59"/><circle cx="643.1" cy="62.7" r="0.65"/><circle cx="649.8" cy="51.2" r="0.70"/><circle cx="676.7" cy="39.8" r="0.60"/><circle cx="658.0" cy="49.2" r="0.45"/><circle cx="668.5" cy="45.3" r="0.38"/><circle cx="653.1" cy="49.1" r="0.66"/><circle cx="663.2" cy="44.2" r="0.39"/><circle cx="670.8" cy="40.8" r="0.35"/><circle cx="653.1" cy="59.5" r="0.48"/><circle cx="652.6" cy="50.1" r="0.51"/><circle cx="666.3" cy="41.7" r="0.51"/><circle cx="647.7" cy="54.8" r="0.66"/><circle cx="645.5" cy="59.0" r="0.62"/><circle cx="655.6" cy="50.3" r="0.51"/><circle cx="642.6" cy="60.7" r="0.54"/><circle cx="646.5" cy="53.6" r="0.45"/><circle cx="640.2" cy="64.6" r="0.55"/><circle cx="655.4" cy="53.5" r="0.63"/><circle cx="660.6" cy="50.8" r="0.42"/><circle cx="678.7" cy="37.6" r="0.62"/><circle cx="648.5" cy="55.2" r="0.44"/><circle cx="640.7" cy="61.8" r="0.69"/><circle cx="650.1" cy="57.4" r="0.37"/><circle cx="657.9" cy="47.0" r="0.44"/><circle cx="646.8" cy="53.6" r="0.47"/><circle cx="665.5" cy="41.2" r="0.32"/><circle cx="685.0" cy="37.3" r="0.34"/><circle cx="667.5" cy="40.7" r="0.56"/><circle cx="659.1" cy="45.3" r="0.74"/><circle cx="655.0" cy="47.8" r="0.50"/><circle cx="650.1" cy="55.3" r="0.32"/><circle cx="664.8" cy="49.5" r="0.34"/><circle cx="637.6" cy="74.5" r="0.64"/><circle cx="659.9" cy="44.0" r="0.40"/><circle cx="662.5" cy="42.7" r="0.71"/><circle cx="654.1" cy="55.8" r="0.63"/><circle cx="649.2" cy="52.2" r="0.68"/><circle cx="670.5" cy="42.4" r="0.42"/><circle cx="657.2" cy="46.2" r="0.52"/><circle cx="670.3" cy="39.6" r="0.71"/><circle cx="655.6" cy="46.0" r="0.38"/><circle cx="653.7" cy="47.3" r="0.54"/><circle cx="675.4" cy="43.2" r="0.51"/><circle cx="647.6" cy="56.0" r="0.31"/><circle cx="649.9" cy="50.9" r="0.46"/><circle cx="655.3" cy="47.5" r="0.46"/><circle cx="656.7" cy="48.8" r="0.57"/><circle cx="662.3" cy="45.2" r="0.34"/><circle cx="672.7" cy="43.6" r="0.52"/><circle cx="643.3" cy="57.8" r="0.50"/><circle cx="662.4" cy="45.8" r="0.38"/><circle cx="668.7" cy="43.8" r="0.52"/><circle cx="665.0" cy="43.7" r="0.70"/><circle cx="665.6" cy="41.2" r="0.68"/><circle cx="661.4" cy="46.2" r="0.62"/><circle cx="661.4" cy="48.9" r="0.53"/><circle cx="661.3" cy="43.3" r="0.60"/><circle cx="675.9" cy="42.6" r="0.39"/><circle cx="647.5" cy="58.5" r="0.41"/><circle cx="675.5" cy="38.7" r="0.66"/><circle cx="659.3" cy="48.8" r="0.34"/><circle cx="641.7" cy="64.2" r="0.54"/><circle cx="641.3" cy="68.4" r="0.74"/><circle cx="671.2" cy="40.0" r="0.70"/><circle cx="662.4" cy="42.4" r="0.66"/><circle cx="651.5" cy="49.8" r="0.71"/><circle cx="673.3" cy="39.0" r="0.40"/><circle cx="662.7" cy="42.1" r="0.50"/><circle cx="671.3" cy="44.5" r="0.60"/><circle cx="648.5" cy="53.3" r="0.67"/><circle cx="668.4" cy="40.6" r="0.54"/><circle cx="660.4" cy="45.2" r="0.42"/><circle cx="638.5" cy="68.3" r="0.40"/><circle cx="646.1" cy="54.2" r="0.62"/><circle cx="657.3" cy="45.6" r="0.62"/><circle cx="689.6" cy="38.7" r="0.40"/><circle cx="656.6" cy="45.5" r="0.42"/><circle cx="661.4" cy="45.7" r="0.72"/><circle cx="680.2" cy="40.8" r="0.70"/><circle cx="649.5" cy="51.8" r="0.63"/><circle cx="649.8" cy="51.5" r="0.42"/><circle cx="664.8" cy="41.4" r="0.65"/><circle cx="640.8" cy="64.4" r="0.73"/><circle cx="661.3" cy="44.6" r="0.33"/><circle cx="672.5" cy="38.9" r="0.36"/><circle cx="657.2" cy="48.0" r="0.37"/><circle cx="666.0" cy="42.2" r="0.39"/><circle cx="650.0" cy="54.2" r="0.36"/><circle cx="662.5" cy="42.2" r="0.48"/><circle cx="666.9" cy="42.4" r="0.69"/><circle cx="649.0" cy="54.6" r="0.70"/><circle cx="665.8" cy="41.1" r="0.73"/><circle cx="649.7" cy="52.9" r="0.38"/><circle cx="642.2" cy="59.6" r="0.47"/><circle cx="653.3" cy="50.9" r="0.32"/><circle cx="653.5" cy="47.9" r="0.59"/><circle cx="693.1" cy="40.0" r="0.33"/><circle cx="661.8" cy="45.4" r="0.45"/><circle cx="661.0" cy="44.4" r="0.67"/><circle cx="648.0" cy="61.8" r="0.45"/><circle cx="635.5" cy="71.9" r="0.32"/><circle cx="667.9" cy="40.2" r="0.37"/><circle cx="657.6" cy="45.6" r="0.38"/></g>
<g fill="#35935F" opacity="0.85"><circle cx="690.4" cy="138.3" r="0.30"/><circle cx="729.7" cy="113.5" r="0.40"/><circle cx="727.8" cy="115.7" r="0.40"/><circle cx="729.5" cy="109.2" r="0.28"/><circle cx="721.8" cy="119.3" r="0.27"/><circle cx="730.1" cy="108.1" r="0.32"/><circle cx="719.3" cy="120.1" r="0.43"/><circle cx="692.0" cy="136.8" r="0.51"/><circle cx="684.0" cy="138.4" r="0.49"/><circle cx="720.7" cy="126.2" r="0.28"/><circle cx="690.9" cy="138.7" r="0.27"/><circle cx="707.1" cy="129.7" r="0.53"/><circle cx="713.6" cy="128.9" r="0.49"/><circle cx="709.7" cy="123.2" r="0.60"/><circle cx="720.7" cy="126.1" r="0.44"/><circle cx="724.5" cy="117.2" r="0.33"/><circle cx="724.7" cy="112.9" r="0.48"/><circle cx="718.5" cy="126.5" r="0.30"/><circle cx="712.0" cy="118.3" r="0.35"/><circle cx="702.9" cy="135.1" r="0.56"/><circle cx="701.0" cy="137.4" r="0.26"/><circle cx="696.3" cy="138.7" r="0.57"/><circle cx="711.3" cy="129.9" r="0.49"/><circle cx="694.6" cy="140.6" r="0.58"/><circle cx="724.3" cy="119.8" r="0.57"/><circle cx="680.1" cy="136.5" r="0.25"/><circle cx="713.3" cy="129.2" r="0.42"/><circle cx="720.7" cy="126.8" r="0.58"/><circle cx="683.0" cy="140.1" r="0.32"/><circle cx="695.5" cy="138.1" r="0.28"/><circle cx="709.4" cy="129.6" r="0.55"/><circle cx="719.7" cy="120.7" r="0.56"/><circle cx="716.7" cy="128.6" r="0.58"/><circle cx="713.6" cy="127.0" r="0.34"/><circle cx="689.5" cy="139.3" r="0.39"/><circle cx="710.1" cy="132.1" r="0.40"/><circle cx="710.7" cy="123.3" r="0.41"/><circle cx="721.5" cy="118.7" r="0.36"/><circle cx="718.4" cy="121.3" r="0.44"/><circle cx="690.5" cy="137.0" r="0.42"/><circle cx="694.6" cy="135.6" r="0.53"/><circle cx="686.0" cy="128.7" r="0.57"/><circle cx="721.6" cy="125.6" r="0.53"/><circle cx="732.1" cy="110.1" r="0.58"/><circle cx="710.9" cy="123.1" r="0.55"/><circle cx="720.1" cy="114.3" r="0.34"/><circle cx="702.1" cy="137.1" r="0.36"/><circle cx="669.4" cy="132.1" r="0.31"/><circle cx="693.0" cy="130.0" r="0.58"/><circle cx="713.6" cy="131.3" r="0.48"/><circle cx="697.4" cy="131.1" r="0.56"/><circle cx="694.7" cy="137.4" r="0.59"/><circle cx="725.8" cy="117.3" r="0.36"/><circle cx="685.8" cy="135.6" r="0.32"/><circle cx="708.1" cy="134.6" r="0.29"/><circle cx="718.6" cy="123.5" r="0.53"/><circle cx="725.1" cy="114.3" r="0.26"/><circle cx="724.1" cy="122.4" r="0.53"/><circle cx="714.4" cy="123.6" r="0.48"/><circle cx="725.7" cy="117.5" r="0.45"/><circle cx="708.8" cy="133.1" r="0.41"/><circle cx="719.6" cy="126.3" r="0.38"/><circle cx="706.4" cy="135.6" r="0.58"/><circle cx="709.9" cy="130.1" r="0.26"/><circle cx="708.7" cy="134.7" r="0.47"/><circle cx="698.3" cy="138.7" r="0.46"/><circle cx="705.6" cy="137.2" r="0.37"/><circle cx="689.6" cy="136.2" r="0.47"/><circle cx="710.5" cy="130.4" r="0.51"/><circle cx="713.3" cy="132.5" r="0.50"/><circle cx="717.0" cy="129.6" r="0.50"/><circle cx="685.0" cy="139.6" r="0.32"/><circle cx="696.4" cy="131.6" r="0.45"/><circle cx="692.7" cy="129.4" r="0.49"/><circle cx="722.8" cy="120.7" r="0.45"/><circle cx="723.5" cy="124.1" r="0.45"/><circle cx="718.5" cy="118.4" r="0.36"/><circle cx="706.9" cy="133.4" r="0.54"/><circle cx="692.7" cy="133.4" r="0.54"/><circle cx="707.9" cy="134.7" r="0.44"/><circle cx="705.1" cy="128.9" r="0.56"/><circle cx="727.3" cy="99.2" r="0.30"/><circle cx="712.0" cy="119.8" r="0.60"/><circle cx="696.4" cy="134.6" r="0.29"/><circle cx="709.8" cy="128.8" r="0.41"/><circle cx="719.0" cy="123.2" r="0.33"/><circle cx="723.0" cy="119.4" r="0.50"/><circle cx="695.7" cy="137.1" r="0.46"/><circle cx="668.3" cy="132.8" r="0.36"/><circle cx="712.1" cy="133.6" r="0.40"/><circle cx="709.7" cy="130.5" r="0.40"/><circle cx="704.1" cy="136.8" r="0.46"/><circle cx="690.5" cy="135.3" r="0.44"/><circle cx="688.1" cy="135.2" r="0.37"/><circle cx="695.6" cy="136.9" r="0.40"/><circle cx="705.7" cy="131.6" r="0.25"/><circle cx="717.2" cy="122.1" r="0.47"/><circle cx="682.8" cy="135.0" r="0.56"/><circle cx="707.4" cy="127.2" r="0.60"/><circle cx="732.2" cy="105.3" r="0.46"/><circle cx="721.4" cy="126.4" r="0.59"/><circle cx="688.2" cy="137.7" r="0.29"/><circle cx="715.7" cy="131.4" r="0.33"/><circle cx="722.0" cy="126.4" r="0.35"/><circle cx="715.7" cy="122.0" r="0.28"/><circle cx="713.4" cy="122.5" r="0.41"/><circle cx="729.6" cy="112.9" r="0.53"/><circle cx="696.0" cy="137.8" r="0.32"/><circle cx="724.6" cy="104.9" r="0.50"/><circle cx="688.6" cy="133.5" r="0.41"/><circle cx="706.5" cy="136.9" r="0.41"/><circle cx="725.4" cy="122.0" r="0.33"/><circle cx="710.6" cy="134.5" r="0.52"/><circle cx="718.6" cy="116.0" r="0.42"/><circle cx="717.6" cy="118.5" r="0.52"/><circle cx="709.9" cy="123.8" r="0.60"/><circle cx="706.0" cy="136.3" r="0.55"/><circle cx="718.6" cy="120.0" r="0.34"/><circle cx="704.9" cy="124.4" r="0.40"/><circle cx="702.8" cy="136.8" r="0.27"/><circle cx="729.0" cy="112.4" r="0.41"/><circle cx="712.5" cy="124.6" r="0.39"/><circle cx="709.2" cy="117.7" r="0.30"/><circle cx="688.1" cy="141.2" r="0.29"/><circle cx="691.6" cy="139.2" r="0.55"/><circle cx="724.8" cy="120.1" r="0.31"/><circle cx="678.0" cy="134.4" r="0.57"/><circle cx="703.0" cy="126.8" r="0.60"/><circle cx="701.8" cy="131.1" r="0.34"/><circle cx="690.3" cy="140.1" r="0.33"/><circle cx="691.1" cy="132.2" r="0.33"/><circle cx="709.9" cy="123.6" r="0.51"/><circle cx="701.8" cy="133.8" r="0.44"/><circle cx="705.3" cy="130.8" r="0.52"/><circle cx="712.4" cy="124.9" r="0.42"/><circle cx="720.1" cy="117.4" r="0.50"/><circle cx="700.1" cy="132.5" r="0.43"/><circle cx="715.3" cy="128.4" r="0.48"/><circle cx="694.3" cy="131.7" r="0.47"/><circle cx="696.5" cy="132.1" r="0.50"/><circle cx="715.1" cy="129.9" r="0.53"/><circle cx="709.6" cy="127.2" r="0.42"/><circle cx="716.1" cy="125.9" r="0.30"/><circle cx="696.1" cy="137.4" r="0.40"/><circle cx="686.8" cy="138.7" r="0.45"/><circle cx="711.9" cy="133.5" r="0.32"/><circle cx="708.0" cy="134.9" r="0.45"/><circle cx="707.9" cy="130.3" r="0.40"/><circle cx="698.2" cy="137.2" r="0.28"/><circle cx="694.5" cy="133.6" r="0.30"/><circle cx="733.6" cy="108.1" r="0.26"/><circle cx="735.4" cy="96.0" r="0.30"/><circle cx="721.8" cy="121.2" r="0.47"/><circle cx="705.4" cy="118.7" r="0.60"/><circle cx="703.9" cy="131.5" r="0.45"/><circle cx="716.4" cy="124.0" r="0.27"/><circle cx="701.5" cy="125.7" r="0.33"/><circle cx="718.1" cy="125.5" r="0.38"/><circle cx="733.4" cy="109.1" r="0.57"/><circle cx="700.8" cy="133.9" r="0.49"/><circle cx="702.4" cy="138.2" r="0.29"/><circle cx="701.2" cy="131.7" r="0.32"/><circle cx="702.7" cy="137.3" r="0.42"/><circle cx="673.1" cy="131.0" r="0.42"/><circle cx="724.3" cy="120.6" r="0.27"/><circle cx="698.0" cy="132.9" r="0.40"/><circle cx="682.3" cy="141.2" r="0.31"/><circle cx="698.5" cy="137.6" r="0.40"/><circle cx="700.7" cy="133.3" r="0.39"/><circle cx="714.8" cy="126.5" r="0.48"/><circle cx="718.0" cy="115.5" r="0.53"/><circle cx="708.6" cy="125.2" r="0.39"/><circle cx="704.0" cy="127.4" r="0.54"/><circle cx="710.2" cy="129.4" r="0.48"/><circle cx="709.0" cy="132.4" r="0.49"/><circle cx="703.3" cy="132.4" r="0.38"/><circle cx="711.7" cy="128.1" r="0.46"/><circle cx="716.9" cy="126.8" r="0.36"/><circle cx="713.3" cy="129.7" r="0.53"/><circle cx="677.7" cy="137.9" r="0.54"/><circle cx="694.9" cy="140.9" r="0.57"/><circle cx="735.5" cy="100.6" r="0.31"/><circle cx="668.9" cy="135.6" r="0.47"/><circle cx="688.9" cy="132.9" r="0.59"/><circle cx="690.4" cy="134.8" r="0.33"/><circle cx="691.6" cy="135.5" r="0.36"/><circle cx="726.8" cy="108.0" r="0.58"/><circle cx="719.8" cy="122.5" r="0.49"/><circle cx="722.0" cy="122.2" r="0.48"/><circle cx="703.5" cy="135.2" r="0.28"/><circle cx="708.4" cy="135.5" r="0.35"/><circle cx="699.9" cy="135.5" r="0.36"/><circle cx="729.6" cy="116.4" r="0.34"/><circle cx="709.0" cy="131.9" r="0.52"/><circle cx="695.7" cy="131.3" r="0.25"/><circle cx="701.9" cy="126.0" r="0.29"/><circle cx="698.4" cy="140.1" r="0.50"/><circle cx="731.2" cy="111.2" r="0.45"/><circle cx="720.5" cy="118.4" r="0.29"/><circle cx="702.4" cy="132.2" r="0.27"/><circle cx="724.6" cy="120.9" r="0.40"/><circle cx="706.7" cy="129.7" r="0.34"/><circle cx="701.1" cy="133.2" r="0.37"/><circle cx="681.0" cy="141.5" r="0.51"/><circle cx="676.1" cy="135.7" r="0.40"/><circle cx="706.2" cy="136.2" r="0.46"/><circle cx="693.3" cy="139.1" r="0.38"/><circle cx="718.3" cy="120.8" r="0.39"/><circle cx="708.8" cy="136.0" r="0.38"/><circle cx="712.9" cy="133.1" r="0.54"/><circle cx="686.5" cy="141.5" r="0.43"/><circle cx="717.9" cy="127.3" r="0.56"/><circle cx="723.1" cy="120.7" r="0.25"/><circle cx="682.7" cy="138.7" r="0.42"/><circle cx="724.4" cy="120.1" r="0.49"/><circle cx="710.5" cy="125.1" r="0.52"/><circle cx="706.6" cy="124.3" r="0.33"/><circle cx="708.8" cy="134.3" r="0.53"/><circle cx="704.6" cy="128.0" r="0.45"/><circle cx="725.8" cy="121.6" r="0.33"/><circle cx="703.2" cy="138.3" r="0.60"/><circle cx="716.4" cy="123.5" r="0.50"/><circle cx="686.0" cy="141.2" r="0.36"/><circle cx="696.1" cy="137.8" r="0.48"/><circle cx="698.1" cy="137.2" r="0.37"/><circle cx="711.6" cy="131.4" r="0.36"/><circle cx="691.5" cy="140.0" r="0.50"/><circle cx="721.0" cy="116.4" r="0.32"/><circle cx="711.6" cy="129.4" r="0.56"/><circle cx="699.1" cy="132.4" r="0.59"/><circle cx="682.5" cy="139.2" r="0.38"/><circle cx="701.8" cy="137.7" r="0.43"/><circle cx="700.4" cy="138.2" r="0.58"/><circle cx="703.9" cy="137.3" r="0.48"/><circle cx="720.3" cy="115.9" r="0.30"/><circle cx="706.9" cy="123.7" r="0.36"/><circle cx="701.4" cy="133.3" r="0.38"/><circle cx="719.8" cy="123.0" r="0.48"/><circle cx="698.6" cy="134.5" r="0.41"/><circle cx="708.0" cy="128.2" r="0.56"/><circle cx="691.0" cy="135.5" r="0.50"/><circle cx="703.2" cy="131.8" r="0.59"/><circle cx="720.2" cy="127.8" r="0.29"/><circle cx="712.3" cy="115.6" r="0.42"/><circle cx="713.7" cy="123.6" r="0.46"/><circle cx="705.6" cy="128.3" r="0.27"/><circle cx="705.4" cy="136.6" r="0.44"/><circle cx="695.0" cy="139.7" r="0.28"/><circle cx="721.9" cy="116.6" r="0.58"/><circle cx="714.8" cy="124.9" r="0.50"/><circle cx="715.1" cy="126.6" r="0.44"/><circle cx="694.8" cy="138.2" r="0.56"/><circle cx="718.4" cy="129.3" r="0.39"/><circle cx="703.3" cy="123.0" r="0.37"/><circle cx="726.3" cy="119.6" r="0.60"/><circle cx="724.5" cy="121.1" r="0.45"/><circle cx="691.1" cy="135.7" r="0.37"/><circle cx="720.7" cy="119.2" r="0.53"/><circle cx="685.4" cy="135.1" r="0.44"/><circle cx="708.7" cy="135.7" r="0.32"/></g>
<circle cx="684.7" cy="89.6" r="35" fill="none" stroke="#33AD6D" stroke-width="1.05"/>
<circle cx="684.7" cy="89.6" r="16.8" fill="none" stroke="#33AD6D" stroke-width="1.05"/>
<text transform="translate(684.7,98.19999999999999) scale(0.74,1)" x="0" y="0" text-anchor="middle" font-size="25.5" fill="#33AD6D" stroke="#B6E187" stroke-width="0.45" style="font-weight:400">$</text>
<polygon fill="#38B274" points="718.1,55.8 742.9,40.3 743.3,53.3 755,59.2 730,74.7 718.1,68.4"/>
<g stroke="#2E6E6E" stroke-width="1.1" stroke-linecap="round"><line x1="685.3" y1="89.3" x2="743.3" y2="53.3"/><line x1="737" y1="57.1" x2="748.3" y2="63.4"/></g>
<g fill="none" stroke="#C91D64" stroke-linecap="round" stroke-linejoin="round">
<path stroke-width="5.9" d="M329,136.4 C347,126 371,117.6 393.3,117.5 C420,117.7 447,140 453.4,168 C454.4,175 453,180 451.5,184"/>
<path stroke-width="5.6" d="M550.5,290 C560,300 565,315 563,327 C559,352 535,374.5 500,380.6 C485,382.6 470,382.9 456,383"/>
</g>
<path fill="#C91D64" stroke="#C91D64" stroke-width="0.6" stroke-linejoin="round" d="M325.1,137.4 L327.6,135.3 L330.1,133.2 L331.8,130.8 L333.3,128.2 L334.8,125.5 L336.3,123.0 L337.9,120.4 L339.5,117.9 L341.2,115.4 L342.9,112.9 L344.6,110.4 L346.4,108.0 L348.3,105.5 L350.2,103.1 A2.20,2.20 0 0 0 346.8,100.3 L346.8,100.3 L344.7,102.5 L342.6,104.9 L340.6,107.2 L338.6,109.6 L336.6,112.0 L334.7,114.4 L332.8,116.9 L330.9,119.4 L329.1,121.9 L327.3,124.5 L325.6,127.1 L324.2,129.9 L323.7,133.1 L323.3,136.4 Z"/>
<polygon fill="#C91D64" points="323.4,137.2 333.8,130.4 337.6,135.6 331,139.8"/>
<path fill="#C91D64" stroke="#C91D64" stroke-width="0.6" stroke-linejoin="round" d="M324.1,138.1 L326.6,139.5 L329.1,141.0 L331.8,141.6 L334.6,141.9 L337.4,142.3 L340.2,142.6 L343.0,142.9 L345.8,143.2 L348.6,143.4 L351.5,143.7 L354.3,144.0 L357.2,144.2 L360.1,144.5 L363.0,144.7 A1.80,1.80 0 0 0 363.4,141.1 L363.4,141.1 L360.5,140.7 L357.7,140.2 L354.9,139.8 L352.1,139.3 L349.3,138.8 L346.5,138.3 L343.7,137.8 L341.0,137.3 L338.2,136.8 L335.5,136.3 L332.8,135.7 L330.1,135.5 L327.2,136.0 L324.3,136.5 Z"/>
<path fill="#C91D64" stroke="#C91D64" stroke-width="0.6" stroke-linejoin="round" d="M452.9,383.5 L456.0,382.8 L459.0,382.0 L461.6,380.5 L464.0,378.9 L466.4,377.2 L468.7,375.5 L471.1,373.9 L473.5,372.3 L475.8,370.7 L478.2,369.1 L480.5,367.6 L482.8,366.1 L485.1,364.6 L487.5,363.1 A1.70,1.70 0 0 0 485.7,360.1 L485.7,360.1 L483.3,361.4 L480.8,362.7 L478.4,364.0 L475.9,365.4 L473.4,366.7 L470.9,368.1 L468.4,369.5 L465.9,370.9 L463.3,372.4 L460.8,373.8 L458.2,375.3 L455.8,377.0 L453.9,379.5 L451.9,382.1 Z"/>
<path fill="#C91D64" stroke="#C91D64" stroke-width="0.6" stroke-linejoin="round" d="M451.9,383.6 L454.2,386.3 L456.4,389.0 L459.1,390.8 L461.9,392.5 L464.7,394.0 L467.5,395.6 L470.3,397.1 L473.1,398.6 L475.9,400.0 L478.6,401.4 L481.3,402.8 L484.0,404.2 L486.7,405.5 L489.4,406.8 A1.70,1.70 0 0 0 491.0,403.8 L491.0,403.8 L488.5,402.3 L485.9,400.8 L483.4,399.2 L480.8,397.6 L478.2,396.0 L475.6,394.3 L473.0,392.6 L470.3,390.9 L467.7,389.1 L465.1,387.4 L462.4,385.6 L459.6,384.0 L456.2,383.1 L452.9,382.2 Z"/>
<polygon fill="#C91D64" points="451.6,382.8 463,376.6 466,383 463.5,389.4"/>
<rect x="300.5" y="186.3" width="262.6" height="75.6" rx="37.8" fill="#C91D64"/>
<g fill="#fff"><circle cx="331.9" cy="209.5" r="8.5"/><circle cx="355" cy="209.5" r="8.5"/></g>
<circle cx="343.4" cy="227.2" r="22.9" fill="#C91D64"/>
<g fill="none" stroke="#fff" stroke-linecap="round" stroke-linejoin="round"><circle cx="343.45" cy="227.4" r="19.65" stroke-width="3.1"/><path stroke-width="2.4" d="M344.1,213 L344.1,227 L328.9,227"/></g>
<text class="p" x="370.3" y="214.5" textLength="96.6" lengthAdjust="spacing">TEMPO DA</text>
<text class="p" x="370.3" y="236.1" textLength="178.6" lengthAdjust="spacing">AULA <tspan font-size="12">1</tspan>H E <tspan dy="1.3">3</tspan><tspan dy="-1.3" font-size="11.2">0</tspan> MIN.</text>
<defs><linearGradient id="yg" gradientUnits="userSpaceOnUse" x1="357" y1="0" x2="581" y2="0"><stop offset="0" stop-color="#FAC42A"/><stop offset="0.06" stop-color="#FCD232"/><stop offset="0.3" stop-color="#FDD835"/><stop offset="0.75" stop-color="#FDDB3E"/><stop offset="0.9" stop-color="#FDE054"/><stop offset="0.945" stop-color="#FEE670" stop-opacity="0.85"/><stop offset="1" stop-color="#FEEB8A" stop-opacity="0"/></linearGradient><linearGradient id="yv" x1="0" y1="0" x2="0" y2="1"><stop offset="0" stop-color="#fff" stop-opacity="0"/><stop offset="0.8" stop-color="#fff" stop-opacity="0"/><stop offset="1" stop-color="#fff" stop-opacity="0.12"/></linearGradient></defs>
<path fill="url(#yg)" d="M360.6,259 Q361,257.2 364,256.9 L420,254.7 L500,253.7 L545,252.4 L566,251.8 L580,252.6 L572,254.6 L581,256.2 L573,258.4 L580,260.4 L572,262.6 L579,265 L571,267.2 L580,269.2 L571,271.4 L578,273.6 L569,275.6 L575,277.8 L567,279.6 L570,281.6 L564,283.6 Q558,288 545,290.8 L500,293.4 L420,294.4 L366,294.4 Q357.5,293.5 357,289.5 L358.6,270 Z"/><path fill="url(#yv)" d="M360.6,259 Q361,257.2 364,256.9 L420,254.7 L500,253.7 L545,252.4 L566,251.8 L580,252.6 L572,254.6 L581,256.2 L573,258.4 L580,260.4 L572,262.6 L579,265 L571,267.2 L580,269.2 L571,271.4 L578,273.6 L569,275.6 L575,277.8 L567,279.6 L570,281.6 L564,283.6 Q558,288 545,290.8 L500,293.4 L420,294.4 L366,294.4 Q357.5,293.5 357,289.5 L358.6,270 Z"/>
<text class="i" x="384.1" y="280.3" textLength="149" lengthAdjust="spacing">IDADE 2 A 15</text>
<text class="h" x="76.6" y="117.9" textLength="106" lengthAdjust="spacingAndGlyphs">SUGESTÃO</text>
<text class="h" x="76.6" y="146" textLength="211.6" lengthAdjust="spacingAndGlyphs">DE TEMPO DE AULA E</text>
<text class="h" x="76.6" y="174" textLength="200.6" lengthAdjust="spacingAndGlyphs">DE CADA ATIVIDADE</text>
<text class="h" x="232.4" y="358.4" textLength="105.8" lengthAdjust="spacingAndGlyphs">SUGESTÃO</text>
<text class="h" x="232.4" y="386.3" textLength="168.4" lengthAdjust="spacingAndGlyphs">DE FAIXA ETÁRIA</text>
<text class="h" x="232.4" y="414.1" textLength="204.8" lengthAdjust="spacingAndGlyphs">EM CADA ATIVIDADE</text>
</svg></body></html>
